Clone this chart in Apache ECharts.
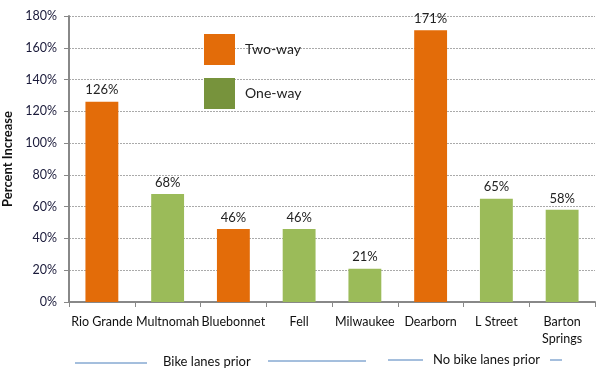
<!DOCTYPE html>
<html><head><meta charset="utf-8">
<script src="https://cdn.jsdelivr.net/npm/echarts@6/dist/echarts.min.js"></script>
<style>html,body{margin:0;padding:0;background:#fff}#c{width:600px;height:373px}</style>
</head><body><div id="c"></div>
<script>
const categories = ['Rio Grande','Multnomah','Bluebonnet','Fell','Milwaukee','Dearborn','L Street','Barton\nSprings'];
const values = [126, 68, 46, 46, 21, 171, 65, 58];
const types = ['Two-way','One-way','Two-way','One-way','One-way','Two-way','One-way','One-way'];
const yTicks = {min: 0, max: 180, interval: 20};
const groupLabels = ['Bike lanes prior', 'No bike lanes prior'];

const FONT = 'Lato, "Open Sans", sans-serif';
const twoWay = values.map((v, i) => types[i] === 'Two-way' ? v : null);
const oneWay = values.map((v, i) => types[i] === 'One-way' ? v : null);

const chart = echarts.init(document.getElementById('c'));
const labelCfg = {show: true, position: 'top', formatter: '{c}%', color: '#222', fontSize: 13, fontFamily: FONT, distance: 5};
chart.setOption({
  animation: false,
  textStyle: {fontFamily: FONT},
  grid: {left: 69, right: 5, top: 16, bottom: 71, containLabel: false, outerBoundsMode: 'none'},
  legend: {
    orient: 'vertical', left: 204, top: 34, itemWidth: 31, itemHeight: 31, itemGap: 13, padding: 0,
    icon: 'rect',
    textStyle: {fontSize: 14, color: '#222', fontFamily: FONT, padding: [0, 0, 0, 5]},
    data: [{name: 'Two-way', itemStyle: {color: '#E36C09'}}, {name: 'One-way', itemStyle: {color: '#77933C'}}]
  },
  xAxis: {
    type: 'category', data: categories,
    axisLine: {lineStyle: {color: '#888', width: 2}},
    axisTick: {show: true, length: 5, lineStyle: {color: '#888', width: 1}},
    axisLabel: {color: '#111', fontSize: 12.5, fontFamily: FONT, interval: 0, margin: 11, lineHeight: 17}
  },
  yAxis: {
    type: 'value', min: yTicks.min, max: yTicks.max, interval: yTicks.interval,
    name: 'Percent Increase', nameLocation: 'middle', nameRotate: 90, nameGap: 54,
    nameTextStyle: {fontWeight: 'bold', fontSize: 13, color: '#111', fontFamily: FONT},
    axisLine: {show: true, lineStyle: {color: '#888', width: 2}},
    axisTick: {show: true, length: 5, lineStyle: {color: '#888'}},
    axisLabel: {formatter: '{value}%', color: '#1a1a3a', fontSize: 12.5, fontFamily: FONT, margin: 12},
    splitLine: {lineStyle: {color: '#aaa', type: [2, 1], width: 1}}
  },
  series: [
    {name: 'Two-way', type: 'bar', data: twoWay, barWidth: '50%', barGap: '-100%', itemStyle: {color: '#E36C09'}, label: labelCfg},
    {name: 'One-way', type: 'bar', data: oneWay, barWidth: '50%', barGap: '-100%', itemStyle: {color: '#9BBB59'}, label: labelCfg}
  ],
  graphic: [
    {type: 'line', shape: {x1: 75, y1: 363, x2: 147, y2: 363}, style: {stroke: '#4A7EBB', lineWidth: 1}},
    {type: 'text', left: 163, top: 355, style: {text: groupLabels[0], fontSize: 13, fill: '#111', fontFamily: FONT}},
    {type: 'line', shape: {x1: 268, y1: 361, x2: 366, y2: 361}, style: {stroke: '#4A7EBB', lineWidth: 1}},
    {type: 'line', shape: {x1: 388, y1: 360, x2: 423, y2: 360}, style: {stroke: '#4A7EBB', lineWidth: 1}},
    {type: 'text', left: 433, top: 353, style: {text: groupLabels[1], fontSize: 13, fill: '#111', fontFamily: FONT}},
    {type: 'line', shape: {x1: 550, y1: 360, x2: 562, y2: 360}, style: {stroke: '#4A7EBB', lineWidth: 1}}
  ]
});
</script></body></html>
